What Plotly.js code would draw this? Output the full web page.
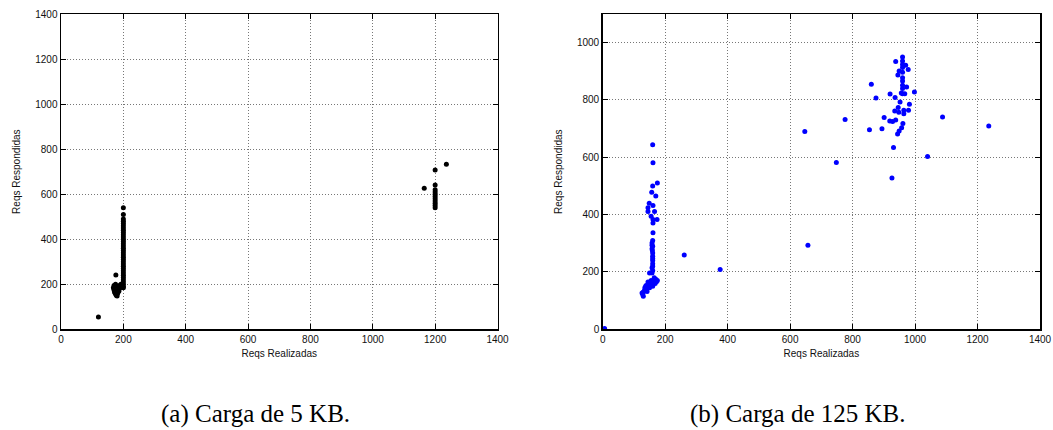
<!DOCTYPE html>
<html>
<head>
<meta charset="utf-8">
<script src="https://cdn.plot.ly/plotly-3.0.1.min.js"></script>
<style>html,body{margin:0;padding:0;background:#fff;}#chart{width:1053px;height:430px;}</style>
</head>
<body>
<div id="chart"></div>
<script>
// (a) Carga de 5 KB
const reqsRealizadas5KB = [120, 176,
  168,170,172,174,176,178,180,182,170,175,180,185,188,186,190,192,178,
  200,200,200,200,200,200,200,200,200,200,200,200,200,200,200,200,200,
  200,200,200,200,200,200,200,200,200,200,200,200,200,200,200,200,200,
  1165,1236,1200,1200,1200,1200,1200,1200,1200,1200,1200,1200,1200];
const reqsRespondidas5KB = [55, 241,
  185,175,165,160,155,150,148,160,195,200,190,180,195,170,185,200,170,
  540,510,490,480,470,460,450,440,430,420,410,400,390,380,370,360,350,
  340,330,320,310,300,290,280,270,260,250,240,230,220,210,200,190,185,
  626,733,707,641,620,610,600,590,580,570,560,550,540];

// (b) Carga de 125 KB
const reqsRealizadas125KB = [6, 376, 261, 647, 657,
  160,161,175,160,170,157,149,161,145,145,166,155,161,174,161,161,158,158,158,160,160,160,158,158,150,160,160,159,160,160,160,160,
  166,172,155,139,148,134,128,126,130,140,150,160,145,135,155,165,170,142,150,160,168,175,130,138,
  960,938,960,960,970,960,978,949,960,945,860,960,960,960,973,960,998,920,956,967,960,936,875,952,982,946,935,948,964,979,964,
  776,901,1088,919,928,938,961,854,894,957,949,944,1236,931,1040,748,926];
const reqsRespondidas125KB = [3, 209, 259, 690, 293,
  644,581,510,500,465,478,440,432,424,411,411,394,383,383,371,337,301,293,281,266,247,229,215,196,196,310,290,275,255,240,220,205,
  171,166,159,153,150,136,122,127,115,140,145,160,165,145,170,180,175,132,155,150,160,170,130,150,
  950,934,936,924,921,913,906,901,897,887,855,878,866,851,845,840,828,821,824,822,822,809,807,793,785,774,762,757,764,764,752,
  732,739,741,727,725,730,718,696,700,703,692,681,709,634,603,582,528];

const xTicks = [0,200,400,600,800,1000,1200,1400];
const yTicksA = [0,200,400,600,800,1000,1200,1400];
const yTicksB = [0,200,400,600,800,1000];

const tickFont = {family:'"Liberation Sans", Arial, sans-serif', size:10, color:'#111'};
const titleFont = {family:'"Liberation Sans", Arial, sans-serif', size:10, color:'#111'};

function axisBase(extra){
  return Object.assign({
    showline:true, linecolor:'#000', linewidth:1.5, mirror:'ticks',
    ticks:'inside', ticklen:5, tickcolor:'#000', tickwidth:1,
    showgrid:true, gridcolor:'#777', gridwidth:1, griddash:'1px,2px',
    zeroline:false, tickfont:tickFont, fixedrange:true
  }, extra);
}

const data = [
  {x:reqsRealizadas5KB, y:reqsRespondidas5KB, type:'scatter', mode:'markers',
   marker:{color:'#000', size:5}, xaxis:'x', yaxis:'y', showlegend:false},
  {x:reqsRealizadas125KB, y:reqsRespondidas125KB, type:'scatter', mode:'markers',
   marker:{color:'#0000ff', size:5}, xaxis:'x2', yaxis:'y2', showlegend:false}
];

const capFont = {family:'"Liberation Serif", "Times New Roman", serif', size:25, color:'#000'};

const layout = {
  width:1053, height:430,
  margin:{l:0,r:0,t:0,b:0},
  paper_bgcolor:'#fff', plot_bgcolor:'#fff',
  xaxis: axisBase({domain:[61/1053, 497.5/1053], range:[0,1400], tickvals:xTicks, anchor:'y',
    title:{text:'Reqs Realizadas', font:titleFont, standoff:6}}),
  yaxis: axisBase({domain:[1-329.3/430, 1-14/430], range:[0,1400], tickvals:yTicksA, anchor:'x',
    title:{text:'Reqs Respondidas', font:titleFont, standoff:12}}),
  xaxis2: axisBase({domain:[602.7/1053, 1040/1053], range:[0,1400], tickvals:xTicks, anchor:'y2',
    title:{text:'Reqs Realizadas', font:titleFont, standoff:6}}),
  yaxis2: axisBase({domain:[1-329.3/430, 1-14/430], range:[0,1100], tickvals:yTicksB, anchor:'x2',
    title:{text:'Reqs Respondidas', font:titleFont, standoff:12}}),
  annotations:[
    {text:'(a) Carga de 5 KB.', xref:'paper', yref:'paper', x:255/1053, y:1-414/430,
     showarrow:false, xanchor:'center', yanchor:'middle', font:capFont},
    {text:'(b) Carga de 125 KB.', xref:'paper', yref:'paper', x:797/1053, y:1-414/430,
     showarrow:false, xanchor:'center', yanchor:'middle', font:capFont}
  ]
};

Plotly.newPlot('chart', data, layout, {staticPlot:true, displayModeBar:false});
</script>
</body>
</html>
